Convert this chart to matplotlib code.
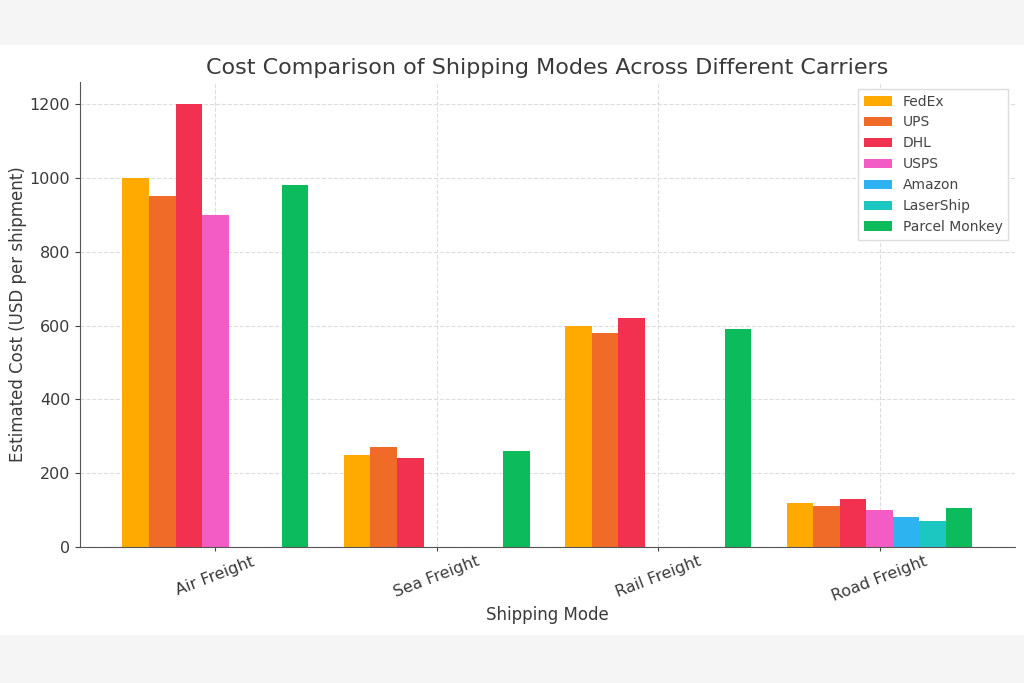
import matplotlib
matplotlib.use("Agg")
import matplotlib.pyplot as plt
import numpy as np
from matplotlib.patches import Rectangle

modes = ["Air Freight", "Sea Freight", "Rail Freight", "Road Freight"]
carriers = ["FedEx", "UPS", "DHL", "USPS", "Amazon", "LaserShip", "Parcel Monkey"]
fedex = [1000, 250, 600, 120]
ups = [950, 270, 580, 110]
dhl = [1200, 240, 620, 130]
usps = [900, 0, 0, 100]
amazon = [0, 0, 0, 80]
lasership = [0, 0, 0, 70]
parcel_monkey = [980, 260, 590, 105]
series = [fedex, ups, dhl, usps, amazon, lasership, parcel_monkey]
colors = ["#FFAA00", "#F06A28", "#F2304F", "#F25CC4", "#2DB2F2", "#1CC7C2", "#0CBB5C"]

fig = plt.figure(figsize=(10.24, 6.83), dpi=100)
fig.patch.set_facecolor("#F5F5F5")
bg = Rectangle((0, 48/683), 1, 590/683, transform=fig.transFigure,
               facecolor="white", edgecolor="none", zorder=-10)
fig.add_artist(bg)
ax = fig.add_axes([80/1024, 1-547/683, (1015-80)/1024, (547-82)/683])
ax.set_zorder(1)
ax.set_facecolor("white")

x = np.arange(len(modes))
w = 0.12
for i, (vals, c, name) in enumerate(zip(series, colors, carriers)):
    ax.bar(x + (i - 3) * w, vals, width=w, color=c, label=name, zorder=2)

ax.set_xticks(x)
ax.set_xticklabels(modes, rotation=21, fontsize=11.5, color="#3a3a3a")
ax.tick_params(axis="x", pad=2, length=3)
ax.tick_params(axis="y", labelsize=11.5, labelcolor="#3a3a3a")
ax.tick_params(axis="both", color="#444444")
ax.set_yticks([0, 200, 400, 600, 800, 1000, 1200])
ax.grid(True, linestyle="--", color="#DDDDDD", linewidth=0.8, zorder=0)
ax.set_axisbelow(True)
for s in ["top", "right"]:
    ax.spines[s].set_visible(False)
for s in ["left", "bottom"]:
    ax.spines[s].set_color("#555555")
ax.set_xlabel("Shipping Mode", fontsize=12, color="#3a3a3a", labelpad=1)
ax.set_ylabel("Estimated Cost (USD per shipment)", fontsize=12, color="#3a3a3a", labelpad=2)
ax.set_title("Cost Comparison of Shipping Modes Across Different Carriers", fontsize=16, color="#3a3a3a", pad=6)
leg = ax.legend(loc="upper right", fontsize=10, framealpha=1, edgecolor="#DDDDDD", fancybox=False,
                borderaxespad=0.5)
for t in leg.get_texts():
    t.set_color("#444444")

fig.savefig("out.png", dpi=100, facecolor=fig.get_facecolor())
